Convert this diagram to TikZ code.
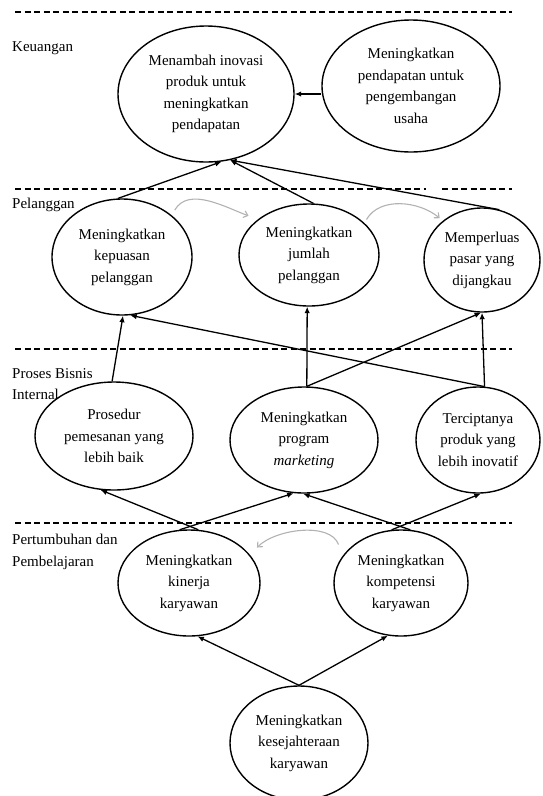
\documentclass[tikz,border=0pt]{standalone}
\usepackage{fontspec}
\setmainfont{Liberation Serif}
\usetikzlibrary{positioning,arrows.meta,shapes.geometric}

\begin{document}
\begin{tikzpicture}[x=1pt,y=-1pt,
  goal/.style={ellipse,draw,line width=1.4pt,inner sep=0pt,align=center,
    font=\fontsize{15}{21.5}\selectfont},
  persp/.style={anchor=west,align=left,inner sep=0pt,
    font=\fontsize{15}{21.5}\selectfont},
  lane/.style={line width=1.2pt,dash pattern=on 6pt off 3.5pt},
  conn/.style={line width=1.3pt,-{Latex[length=6.5pt,width=5.5pt]}},
  grayarc/.style={line width=1.1pt,gray!60,-{Straight Barb[length=4pt,width=7pt]}}]
\useasboundingbox (0,0) rectangle (542,796);
% perspective lanes
\draw[lane] (15,12) -- (512,12);
\draw[lane] (15,189) -- (426,189);
\draw[lane] (442,189) -- (512,189);
\foreach \yy in {349,523}
  {\draw[lane] (15,\yy) -- (512,\yy);}
\node[persp] (keu) at (12,48) {Keuangan};
\node[persp] (pel) at (12,205) {Pelanggan};
\node[persp] (pbi) at (12,384) {Proses Bisnis\\Internal};
\node[persp] (pdp) at (12,552) {Pertumbuhan dan\\Pembelajaran};
% Keuangan
\node[goal,minimum width=176pt,minimum height=136pt] (E1) at (206,94)
  {Menambah inovasi\\produk untuk\\meningkatkan\\pendapatan};
\node[goal,minimum width=178pt,minimum height=132pt] (E2) at (411,86)
  {Meningkatkan\\pendapatan untuk\\pengembangan\\usaha};
% Pelanggan
\node[goal,minimum width=140pt,minimum height=116pt] (P1) at (122,257)
  {Meningkatkan\\kepuasan\\pelanggan};
\node[goal,minimum width=140pt,minimum height=102pt] (P2) at (309,255)
  {Meningkatkan\\jumlah\\pelanggan};
\node[goal,minimum width=116pt,minimum height=104pt] (P3) at (482,260)
  {Memperluas\\pasar yang\\dijangkau};
% Proses Bisnis Internal
\node[goal,minimum width=158pt,minimum height=108pt] (I1) at (114,436)
  {Prosedur\\pemesanan yang\\lebih baik};
\node[goal,minimum width=148pt,minimum height=106pt] (I2) at (304,440)
  {Meningkatkan\\program\\\textit{marketing}};
\node[goal,minimum width=124pt,minimum height=106pt] (I3) at (478,440)
  {Terciptanya\\produk yang\\lebih inovatif};
% Pertumbuhan dan Pembelajaran
\node[goal,minimum width=142pt,minimum height=106pt] (G1) at (189,583)
  {Meningkatkan\\kinerja\\karyawan};
\node[goal,minimum width=134pt,minimum height=106pt] (G2) at (401,583)
  {Meningkatkan\\kompetensi\\karyawan};
\node[goal,minimum width=138pt,minimum height=114pt] (G3) at (299,743)
  {Meningkatkan\\kesejahteraan\\karyawan};
% cause-effect links
\draw[conn] (E2.west |- E1.east) -- (E1.east);
\draw[conn] (P1.94) -- (E1.-77);
\draw[conn] (P2.85) -- (E1.-70);
\draw[conn] (P3.71) -- (E1.-70);
\draw[conn] (I1.92) -- (P1.-89);
\draw[conn] (I3.83) -- (P1.-82);
\draw[conn] (I2.87) -- (P2.-92);
\draw[conn] (I2.87) -- (P3.-91);
\draw[conn] (I3.83) -- (P3.-90);
\draw[conn] (G1.80) -- (I1.-104);
\draw[conn] (G1.100) -- (I2.-101);
\draw[conn] (G2.80) -- (I2.-91);
\draw[conn] (G2.100) -- (I3.-87);
\draw[conn] (G3.north) -- (G1.-81);
\draw[conn] (G3.north) -- (G2.-104);
% gray side links
\draw[grayarc,shorten <=6pt,shorten >=10pt] (P1.40) to[out=60,in=160] (P2.145);
\draw[grayarc,shorten <=4pt,shorten >=4pt] (P2.30) to[out=60,in=140] (P3.135);
\draw[grayarc,shorten <=12pt,shorten >=10pt] (G2.155) to[out=110,in=45] (G1.25);
\end{tikzpicture}
\end{document}
